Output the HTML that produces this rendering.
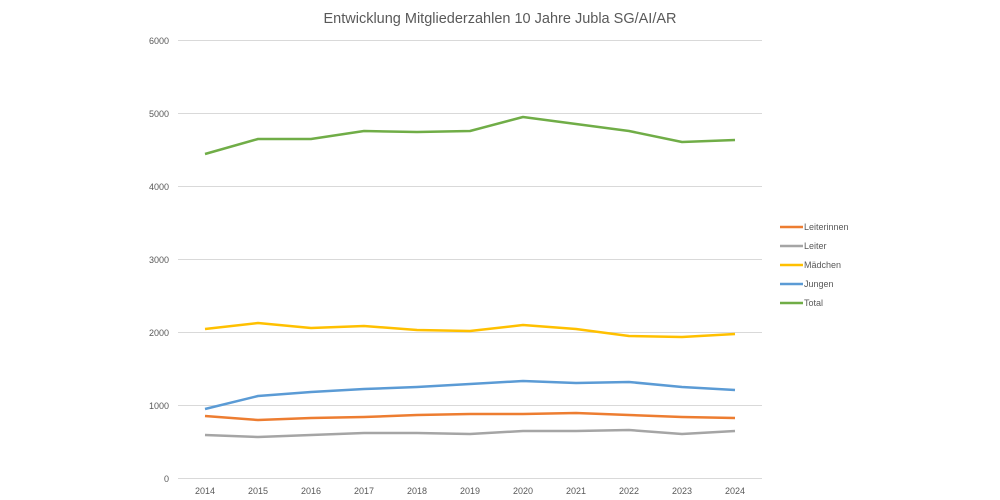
<!DOCTYPE html>
<html><head><meta charset="utf-8"><style>
body{margin:0;background:#fff}
svg{display:block;font-family:"Liberation Sans",sans-serif}
</style></head><body>
<svg width="1000" height="500" viewBox="0 0 1000 500">
<text x="500" y="23" font-size="14.5" fill="#595959" text-anchor="middle">Entwicklung Mitgliederzahlen 10 Jahre Jubla SG/AI/AR</text>
<g stroke="#d9d9d9" stroke-width="1">
<line x1="178" y1="40.5" x2="762" y2="40.5"/>
<line x1="178" y1="113.5" x2="762" y2="113.5"/>
<line x1="178" y1="186.5" x2="762" y2="186.5"/>
<line x1="178" y1="259.5" x2="762" y2="259.5"/>
<line x1="178" y1="332.5" x2="762" y2="332.5"/>
<line x1="178" y1="405.5" x2="762" y2="405.5"/>
<line x1="178" y1="478.5" x2="762" y2="478.5"/>
</g>
<g font-size="9" fill="#595959" text-anchor="end">
<text x="169" y="44">6000</text><text x="169" y="117">5000</text><text x="169" y="190">4000</text>
<text x="169" y="263">3000</text><text x="169" y="336">2000</text><text x="169" y="409">1000</text><text x="169" y="482">0</text>
</g>
<g font-size="9" fill="#595959" text-anchor="middle">
<text x="205" y="494">2014</text><text x="258" y="494">2015</text><text x="311" y="494">2016</text><text x="364" y="494">2017</text><text x="417" y="494">2018</text><text x="470" y="494">2019</text><text x="523" y="494">2020</text><text x="576" y="494">2021</text><text x="629" y="494">2022</text><text x="682" y="494">2023</text><text x="735" y="494">2024</text>
</g>
<g fill="none" stroke-width="2.5" stroke-linejoin="round">
<polyline stroke="#70ad47" points="205,154 258,139 311,139 364,131 417,132 470,131 523,117 576,124 629,131 682,142 735,140"/>
<polyline stroke="#ffc000" points="205,329 258,323 311,328 364,326 417,330 470,331 523,325 576,329 629,336 682,337 735,334"/>
<polyline stroke="#5b9bd5" points="205,409 258,396 311,392 364,389 417,387 470,384 523,381 576,383 629,382 682,387 735,390"/>
<polyline stroke="#ed7d31" points="205,416 258,420 311,418 364,417 417,415 470,414 523,414 576,413 629,415 682,417 735,418"/>
<polyline stroke="#a5a5a5" points="205,435 258,437 311,435 364,433 417,433 470,434 523,431 576,431 629,430 682,434 735,431"/>
</g>
<g stroke-width="2.5">
<line x1="780" y1="227" x2="803" y2="227" stroke="#ed7d31"/>
<line x1="780" y1="246" x2="803" y2="246" stroke="#a5a5a5"/>
<line x1="780" y1="265" x2="803" y2="265" stroke="#ffc000"/>
<line x1="780" y1="284" x2="803" y2="284" stroke="#5b9bd5"/>
<line x1="780" y1="303" x2="803" y2="303" stroke="#70ad47"/>
</g>
<g font-size="9" fill="#595959">
<text x="804" y="230">Leiterinnen</text><text x="804" y="249">Leiter</text><text x="804" y="268">Mädchen</text><text x="804" y="287">Jungen</text><text x="804" y="306">Total</text>
</g>
</svg>
</body></html>
